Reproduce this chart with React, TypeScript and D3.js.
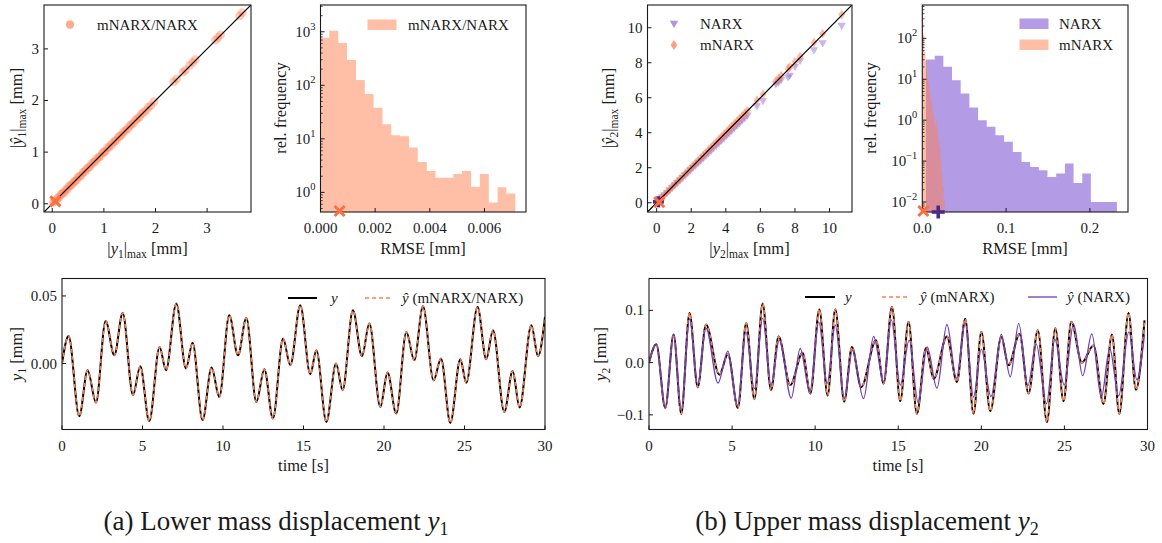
import React from "react";
import * as d3 from "d3";

const FONT = '"Liberation Serif", "Times New Roman", serif';
const CORAL = "#FF7F50";
const CORAL_MARK = "#FF6E40";
const PURPLE = "#9370DB";
const PURPLE_LINE = "#6A3FB8";
const PURPLE_DARK = "#4B2A85";
const INK = "#1a1a1a";

// ---------------- data: panel (a) lower mass ----------------
const scatterA_true = [0.02,0.05,0.08,0.11,0.14,0.17,0.2,0.23,0.26,0.29,0.32,0.35,0.38,0.41,0.44,0.47,0.5,0.53,0.57,0.6,0.63,0.66,0.7,0.73,0.76,0.8,0.83,0.86,0.9,0.93,0.97,1.0,1.03,1.07,1.1,1.14,1.17,1.21,1.24,1.28,1.31,1.35,1.38,1.42,1.46,1.5,1.53,1.57,1.61,1.65,1.69,1.73,1.77,1.82,1.86,1.91,1.97,2.35,2.41,2.53,2.58,2.66,2.72,2.77,3.16,3.21,3.26,3.63,3.68];
const scatterA_pred = [0.03,0.05,0.07,0.12,0.13,0.18,0.2,0.22,0.27,0.28,0.33,0.35,0.37,0.42,0.44,0.46,0.51,0.53,0.56,0.61,0.62,0.67,0.7,0.72,0.77,0.8,0.82,0.87,0.9,0.92,0.98,1.0,1.02,1.08,1.1,1.13,1.18,1.21,1.23,1.29,1.31,1.34,1.39,1.42,1.45,1.51,1.53,1.56,1.62,1.65,1.68,1.74,1.77,1.81,1.87,1.9,1.98,2.36,2.42,2.55,2.59,2.68,2.74,2.79,3.17,3.22,3.27,3.64,3.7];
const scatterA_ref = [0.06, 0.045];
const histA_edges = [0.0000,0.00032,0.00065,0.00097,0.0013,0.00162,0.00194,0.00227,0.00259,0.00292,0.00324,0.00356,0.00389,0.00421,0.00454,0.00486,0.00518,0.00551,0.00583,0.00616,0.00648,0.0068,0.00713];
const histA_density = [775,1050,620,296,125,69,38,18.8,11.7,11.2,6.9,3.7,2.5,1.87,1.87,2.2,2.5,1.27,2.2,0.65,1.25,0.95];
const histA_ref = 0.0007;

const tsA_t = [0,0.41,1.07,1.59,2.11,2.71,3.25,3.77,4.41,4.86,5.42,6.06,6.46,7.1,7.7,8.11,8.73,9.29,9.77,10.39,10.93,11.45,12.07,12.57,13.1,13.73,14.18,14.8,15.42,15.8,16.42,17.02,17.43,18.07,18.63,19.09,19.77,20.22,20.76,21.39,21.88,22.42,23.08,23.54,24.12,24.74,25.11,25.81,26.35,26.77,27.47,27.99,28.42,29.15,29.57,30];
const tsA_y = [0,0.0204,-0.039,-0.005,-0.0289,0.0315,0.0061,0.0374,-0.0234,-0.002,-0.0427,0.0123,-0.005,0.0444,-0.0037,0.0153,-0.0419,-0.003,-0.0247,0.0357,0.0061,0.0337,-0.0284,-0.0042,-0.0407,0.0185,-0.0013,0.0431,-0.0079,0.0098,-0.0432,0,-0.0197,0.0394,0.0054,0.0296,-0.0321,-0.0067,-0.037,0.0234,0.0024,0.0424,-0.0124,0.0037,-0.0439,0.0032,-0.0143,0.0419,0.0032,0.0246,-0.0358,-0.0055,-0.0325,0.0283,0.0054,0.0345];
const tsA_yhat = [0,0.0204,-0.039,-0.005,-0.0289,0.0315,0.0061,0.0374,-0.0234,-0.002,-0.0427,0.0123,-0.005,0.0444,-0.0037,0.0153,-0.0419,-0.003,-0.0247,0.0357,0.0061,0.0337,-0.0284,-0.0042,-0.0407,0.0185,-0.0013,0.0431,-0.0079,0.0098,-0.0432,0,-0.0197,0.0394,0.0054,0.0296,-0.0321,-0.0067,-0.037,0.0234,0.0024,0.0424,-0.0124,0.0037,-0.0439,0.0032,-0.0143,0.0419,0.0032,0.0246,-0.0358,-0.0055,-0.0325,0.0283,0.0054,0.0345];

// ---------------- data: panel (b) upper mass ----------------
const scatterB_true = [0.05,0.15,0.3,0.45,0.6,0.75,0.9,1.05,1.2,1.35,1.5,1.65,1.8,1.95,2.1,2.25,2.4,2.55,2.7,2.85,3.0,3.15,3.3,3.45,3.6,3.75,3.9,4.05,4.2,4.35,4.5,4.65,4.8,4.95,5.1,5.25,5.8,6.15,6.9,7.05,7.2,7.6,7.7,8.0,8.3,9.1,9.6,10.7];
const scatterB_narx = [0.1,0.2,0.3,0.42,0.55,0.7,0.85,0.98,1.12,1.26,1.4,1.55,1.68,1.83,1.97,2.1,2.25,2.38,2.53,2.67,2.82,2.96,3.1,3.24,3.39,3.53,3.67,3.82,3.96,4.1,4.25,4.39,4.53,4.68,4.82,4.97,5.5,5.8,6.75,6.85,7.0,7.15,7.25,7.75,8.1,8.7,9.1,10.1];
const scatterB_mnarx = [0.06,0.16,0.31,0.46,0.61,0.76,0.91,1.06,1.21,1.36,1.51,1.66,1.81,1.96,2.11,2.26,2.41,2.56,2.71,2.86,3.01,3.16,3.31,3.46,3.61,3.76,3.91,4.06,4.21,4.36,4.51,4.66,4.81,4.96,5.11,5.26,5.85,6.2,6.95,7.1,7.25,7.65,7.75,8.05,8.35,9.15,9.65,10.75];
const scatterB_refNarx = [0.1, 0.05];
const scatterB_refMnarx = [0.15, 0.03];
const histB_narxEdges = [0.0044,0.0148,0.0251,0.0355,0.0458,0.0562,0.0666,0.0769,0.0873,0.0976,0.108,0.1184,0.1287,0.1391,0.1494,0.1598,0.1702,0.1805,0.1909,0.2012,0.2116,0.222,0.2323];
const histB_narxDensity = [30.6,37.6,20.2,9.5,4.5,2.04,1.0,0.69,0.43,0.295,0.168,0.095,0.072,0.06,0.041,0.05,0.087,0.029,0.05,0.01,0.01,0.01];
const histB_mnarxEdges = [0,0.0012,0.0024,0.0036,0.0048,0.006,0.0072,0.0084,0.0096,0.0108,0.012,0.0132,0.0144,0.0156,0.0168,0.018,0.0192,0.0204,0.0216,0.0228,0.024,0.0252,0.0264];
const histB_mnarxDensity = [250,120,45,28,17,11,7.5,4.9,3.3,2.4,1.7,1.3,0.85,0.7,1.0,0.45,0.3,0.2,0.1,0.05,0.025,0.012];
const histB_refMnarx = 0.0012;
const histB_refNarx = 0.019;

const tsB_t = [0,0.44,0.98,1.48,1.94,2.44,2.93,3.43,4.23,4.75,5.35,5.85,6.34,6.84,7.34,7.8,8.5,9.24,9.71,10.25,10.75,11.21,11.75,12.21,12.77,13.66,14.12,14.62,15.12,15.62,16.12,16.67,17.13,17.93,18.53,19.03,19.53,20.0,20.54,21.2,21.64,22.3,22.84,23.4,23.95,24.45,24.95,25.41,26.05,26.75,27.35,27.86,28.3,28.86,29.3,29.82];
const tsB_y = [0,0.035,-0.087,0.054,-0.098,0.095,-0.047,0.073,-0.023,0.016,-0.087,0.076,-0.07,0.113,-0.053,0.05,-0.043,0.019,-0.059,0.102,-0.063,0.102,-0.075,0.03,-0.047,0.043,-0.04,0.107,-0.074,0.078,-0.098,0.028,-0.031,0.05,-0.037,0.084,-0.098,0.059,-0.093,0.049,-0.005,0.055,-0.059,0.062,-0.114,0.066,-0.074,0.078,0.0,0.033,-0.079,0.054,-0.098,0.095,-0.052,0.081];
const tsB_yhatMnarx = [0,0.035,-0.087,0.054,-0.098,0.095,-0.047,0.073,-0.023,0.016,-0.087,0.076,-0.07,0.113,-0.053,0.05,-0.043,0.019,-0.059,0.102,-0.063,0.102,-0.075,0.03,-0.047,0.043,-0.04,0.107,-0.074,0.078,-0.098,0.028,-0.031,0.05,-0.037,0.084,-0.098,0.059,-0.093,0.049,-0.005,0.055,-0.059,0.062,-0.114,0.066,-0.074,0.078,0.0,0.033,-0.079,0.054,-0.098,0.095,-0.052,0.081];
const tsB_tNarx = [0,0.44,0.98,1.48,1.94,2.44,2.93,3.43,4.15,4.75,5.33,5.83,6.34,6.84,7.34,7.84,8.56,9.1,9.68,10.22,10.72,11.21,11.75,12.25,12.91,13.52,14.12,14.58,15.12,15.66,16.2,16.74,17.33,17.93,18.5,19.03,19.53,20.0,20.58,21.2,21.74,22.25,22.8,23.3,23.92,24.42,24.99,25.55,26.1,26.65,27.22,27.73,28.26,28.88,29.36,29.82];
const tsB_yhatNarx = [0,0.035,-0.087,0.054,-0.092,0.084,-0.042,0.066,-0.039,0.022,-0.082,0.059,-0.05,0.085,-0.043,0.043,-0.068,0.027,-0.056,0.078,-0.04,0.072,-0.069,0.024,-0.069,0.05,-0.037,0.082,-0.043,0.043,-0.077,0.03,-0.049,0.073,-0.03,0.075,-0.066,0.026,-0.065,0.054,-0.027,0.075,-0.044,0.036,-0.079,0.045,-0.043,0.074,-0.025,0.055,-0.066,0.027,-0.064,0.059,-0.033,0.054];

// ---------------- tick definitions ----------------
const ticksA_scatter = [0, 1, 2, 3];
const ticksA_hist = [0, 0.002, 0.004, 0.006];
const ticksB_scatter = [0, 2, 4, 6, 8, 10];
const ticksB_hist = [0, 0.1, 0.2];
const ticksTime = [0, 5, 10, 15, 20, 25, 30];
const ticksA_ts = [-0.05, 0, 0.05];
const ticksB_ts = [-0.1, 0, 0.1];

// ---------------- layout ----------------
type Box = { x0: number; x1: number; y0: number; y1: number };
const P_A1: Box = { x0: 44, x1: 251, y0: 5, y1: 212 };
const P_A2: Box = { x0: 320.5, x1: 526, y0: 5, y1: 212 };
const P_B1: Box = { x0: 647.5, x1: 852, y0: 5, y1: 212 };
const P_B2: Box = { x0: 922.3, x1: 1128, y0: 5, y1: 212 };
const P_A3: Box = { x0: 62, x1: 545, y0: 278.5, y1: 429.5 };
const P_B3: Box = { x0: 649, x1: 1147.5, y0: 278.5, y1: 429.5 };

const TICK_FS = 15;
const LABEL_FS = 16.5;

function Frame({ b }: { b: Box }) {
  return <rect x={b.x0} y={b.y0} width={b.x1 - b.x0} height={b.y1 - b.y0} fill="none" stroke={INK} strokeWidth={1.1} />;
}

function XTicks({ b, scale, values, fmt }: { b: Box; scale: any; values: number[]; fmt: (v: number) => string }) {
  const [d0, d1] = scale.domain();
  return (
    <g>
      {values.filter((v) => v >= Math.min(d0, d1) - 1e-9 && v <= Math.max(d0, d1) + 1e-9).map((v, i) => (
        <g key={i}>
          <line x1={scale(v)} x2={scale(v)} y1={b.y1} y2={b.y1 - 4} stroke={INK} strokeWidth={1} />
          <text x={scale(v)} y={b.y1 + 21} textAnchor="middle" fontSize={TICK_FS}>{fmt(v)}</text>
        </g>
      ))}
    </g>
  );
}

function YTicks({ b, scale, values, fmt }: { b: Box; scale: any; values: number[]; fmt: (v: number) => string }) {
  const [d0, d1] = scale.domain();
  return (
    <g>
      {values.filter((v) => v >= Math.min(d0, d1) - 1e-9 && v <= Math.max(d0, d1) + 1e-9).map((v, i) => (
        <g key={i}>
          <line x1={b.x0} x2={b.x0 + 4} y1={scale(v)} y2={scale(v)} stroke={INK} strokeWidth={1} />
          <text x={b.x0 - 5} y={scale(v) + 5} textAnchor="end" fontSize={TICK_FS}>{fmt(v)}</text>
        </g>
      ))}
    </g>
  );
}

function LogYTicks({ b, scale }: { b: Box; scale: any }) {
  const [lo, hi] = scale.domain();
  const majors: number[] = [];
  const minors: number[] = [];
  for (let k = Math.floor(Math.log10(lo)); k <= Math.ceil(Math.log10(hi)); k++) {
    for (let m = 1; m <= 9; m++) {
      const v = m * Math.pow(10, k);
      if (v >= lo && v <= hi) (m === 1 ? majors : minors).push(v);
    }
  }
  return (
    <g>
      {minors.map((v, i) => (
        <line key={"m" + i} x1={b.x0} x2={b.x0 + 2.2} y1={scale(v)} y2={scale(v)} stroke={INK} strokeWidth={0.8} />
      ))}
      {majors.map((v, i) => {
        const e = Math.round(Math.log10(v));
        return (
          <g key={"M" + i}>
            <line x1={b.x0} x2={b.x0 + 4} y1={scale(v)} y2={scale(v)} stroke={INK} strokeWidth={1} />
            <text x={b.x0 - 5} y={scale(v) + 5} textAnchor="end" fontSize={TICK_FS}>
              10<tspan dy={-7} fontSize={10.5}>{e < 0 ? "\u2212" + Math.abs(e) : String(e)}</tspan>
            </text>
          </g>
        );
      })}
    </g>
  );
}

function AbsMax({ hat, idx }: { hat: boolean; idx: string }) {
  return (
    <>
      <tspan>|</tspan>
      <tspan fontStyle="italic">{hat ? "\u0177" : "y"}</tspan>
      <tspan fontSize={11.5} dy={4}>{idx}</tspan>
      <tspan dy={-4}>|</tspan>
      <tspan fontSize={11.5} dy={4}>max</tspan>
      <tspan dy={-4}>{"\u00a0[mm]"}</tspan>
    </>
  );
}

function XMark({ x, y, s, color }: { x: number; y: number; s: number; color: string }) {
  return (
    <g stroke={color} strokeWidth={3} strokeLinecap="butt">
      <line x1={x - s} y1={y - s} x2={x + s} y2={y + s} />
      <line x1={x - s} y1={y + s} x2={x + s} y2={y - s} />
    </g>
  );
}

function PlusMark({ x, y, s, color }: { x: number; y: number; s: number; color: string }) {
  return (
    <g stroke={color} strokeWidth={3.6}>
      <line x1={x - s} y1={y} x2={x + s} y2={y} />
      <line x1={x} y1={y - s} x2={x} y2={y + s} />
    </g>
  );
}

function stepArea(edges: number[], heights: number[], xs: any, ys: any, bottom: number) {
  const pts: [number, number][] = edges.map((e, i) => [e, heights[Math.min(i, heights.length - 1)]]);
  const gen = d3
    .area<[number, number]>()
    .x((d) => xs(d[0]))
    .y0(bottom)
    .y1((d) => Math.min(bottom, ys(d[1])))
    .curve(d3.curveStepAfter);
  return gen(pts) || "";
}

function triDown(cx: number, cy: number) {
  return `M${cx - 4.2},${cy - 3.2} L${cx + 4.2},${cy - 3.2} L${cx},${cy + 4} Z`;
}
function diamond(cx: number, cy: number) {
  return `M${cx},${cy - 5} L${cx + 3.4},${cy} L${cx},${cy + 5} L${cx - 3.4},${cy} Z`;
}

export default function App() {
  // scales
  const xA1 = d3.scaleLinear().domain([-0.16, 3.85]).range([P_A1.x0, P_A1.x1]);
  const yA1 = d3.scaleLinear().domain([-0.16, 3.85]).range([P_A1.y1, P_A1.y0]);
  const xA2 = d3.scaleLinear().domain([0, 0.00752]).range([P_A2.x0, P_A2.x1]);
  const yA2 = d3.scaleLog().domain([0.43, 3162]).range([P_A2.y1, P_A2.y0]);
  const xB1 = d3.scaleLinear().domain([-0.53, 11.3]).range([P_B1.x0, P_B1.x1]);
  const yB1 = d3.scaleLinear().domain([-0.53, 11.3]).range([P_B1.y1, P_B1.y0]);
  const xB2 = d3.scaleLinear().domain([0, 0.2455]).range([P_B2.x0, P_B2.x1]);
  const yB2 = d3.scaleLog().domain([0.0057, 653]).range([P_B2.y1, P_B2.y0]);
  const xA3 = d3.scaleLinear().domain([0, 30]).range([P_A3.x0, P_A3.x1]);
  const yA3 = d3.scaleLinear().domain([-0.0488, 0.0629]).range([P_A3.y1, P_A3.y0]);
  const xB3 = d3.scaleLinear().domain([0, 30]).range([P_B3.x0, P_B3.x1]);
  const yB3 = d3.scaleLinear().domain([-0.128, 0.161]).range([P_B3.y1, P_B3.y0]);

  const lineA = d3.line<number>().x((_, i) => xA3(tsA_t[i])).y((d) => yA3(d)).curve(d3.curveMonotoneX);
  const lineBy = d3.line<number>().x((_, i) => xB3(tsB_t[i])).y((d) => yB3(d)).curve(d3.curveMonotoneX);
  const lineBn = d3.line<number>().x((_, i) => xB3(tsB_tNarx[i])).y((d) => yB3(d)).curve(d3.curveMonotoneX);

  const fmtInt = (v: number) => (v < 0 ? "\u2212" : "") + d3.format("d")(Math.abs(v));
  const fmt3 = (v: number) => d3.format(".3f")(v);
  const fmt1 = (v: number) => (v < 0 ? "\u2212" : "") + d3.format(".1f")(Math.abs(v));
  const fmt2 = (v: number) => (v < 0 ? "\u2212" : "") + d3.format(".2f")(Math.abs(v));

  const clip = (id: string, b: Box) => (
    <clipPath id={id}>
      <rect x={b.x0} y={b.y0} width={b.x1 - b.x0} height={b.y1 - b.y0} />
    </clipPath>
  );

  return (
    <svg width={1162} height={543} viewBox="0 0 1162 543" style={{ position: "absolute", left: 0, top: 0, background: "#fff" }} fontFamily={FONT} fill={INK}>
      <defs>
        {clip("cA1", P_A1)}
        {clip("cA2", P_A2)}
        {clip("cB1", P_B1)}
        {clip("cB2", P_B2)}
        {clip("cA3", P_A3)}
        {clip("cB3", P_B3)}
      </defs>
      <rect x={0} y={0} width={1162} height={543} fill="#fff" />

      {/* ---------- (a) scatter ---------- */}
      <g clipPath="url(#cA1)">
        {scatterA_true.map((v, i) => (
          <circle key={i} cx={xA1(v)} cy={yA1(scatterA_pred[i])} r={4.4} fill={CORAL} fillOpacity={0.4} />
        ))}
        <line x1={xA1(-0.16)} y1={yA1(-0.16)} x2={xA1(3.85)} y2={yA1(3.85)} stroke="#000" strokeWidth={1.2} />
      </g>
      <XMark x={xA1(scatterA_ref[0])} y={yA1(scatterA_ref[1])} s={5} color={CORAL_MARK} />
      <Frame b={P_A1} />
      <XTicks b={P_A1} scale={xA1} values={ticksA_scatter} fmt={fmtInt} />
      <YTicks b={P_A1} scale={yA1} values={ticksA_scatter} fmt={fmtInt} />
      <circle cx={70} cy={24.5} r={4.2} fill={CORAL} fillOpacity={0.65} />
      <text x={97} y={29.5} fontSize={15}>mNARX/NARX</text>
      <text x={147.5} y={254} textAnchor="middle" fontSize={LABEL_FS}><AbsMax hat={false} idx="1" /></text>
      <text transform="translate(22,108) rotate(-90)" textAnchor="middle" fontSize={LABEL_FS}><AbsMax hat={true} idx="1" /></text>

      {/* ---------- (a) histogram ---------- */}
      <g clipPath="url(#cA2)">
        <path d={stepArea(histA_edges, histA_density, xA2, yA2, P_A2.y1)} fill={CORAL} fillOpacity={0.5} />
      </g>
      <Frame b={P_A2} />
      <XTicks b={P_A2} scale={xA2} values={ticksA_hist} fmt={fmt3} />
      <LogYTicks b={P_A2} scale={yA2} />
      <XMark x={xA2(histA_ref)} y={P_A2.y1 - 1} s={5} color={CORAL_MARK} />
      <rect x={367.5} y={19.5} width={29} height={10.5} fill={CORAL} fillOpacity={0.5} />
      <text x={408} y={30} fontSize={15}>mNARX/NARX</text>
      <text x={423} y={254} textAnchor="middle" fontSize={LABEL_FS}>RMSE [mm]</text>
      <text transform="translate(286,108) rotate(-90)" textAnchor="middle" fontSize={LABEL_FS}>rel. frequency</text>

      {/* ---------- (b) scatter ---------- */}
      <g clipPath="url(#cB1)">
        {scatterB_true.map((v, i) => (
          <path key={"n" + i} d={triDown(xB1(v), yB1(scatterB_narx[i]))} fill={PURPLE} fillOpacity={0.5} />
        ))}
        {scatterB_true.map((v, i) => (
          <path key={"m" + i} d={diamond(xB1(v), yB1(scatterB_mnarx[i]))} fill={CORAL} fillOpacity={0.5} />
        ))}
        <line x1={xB1(-0.53)} y1={yB1(-0.53)} x2={xB1(11.3)} y2={yB1(11.3)} stroke="#000" strokeWidth={1.2} />
      </g>
      <PlusMark x={xB1(scatterB_refNarx[0])} y={yB1(scatterB_refNarx[1])} s={5.5} color={PURPLE_DARK} />
      <XMark x={xB1(scatterB_refMnarx[0])} y={yB1(scatterB_refMnarx[1])} s={5} color={CORAL_MARK} />
      <Frame b={P_B1} />
      <XTicks b={P_B1} scale={xB1} values={ticksB_scatter} fmt={fmtInt} />
      <YTicks b={P_B1} scale={yB1} values={ticksB_scatter} fmt={fmtInt} />
      <path d={triDown(674, 24)} fill={PURPLE} fillOpacity={0.75} />
      <text x={700} y={29} fontSize={15}>NARX</text>
      <path d={diamond(674, 45)} fill={CORAL} fillOpacity={0.75} />
      <text x={700} y={50} fontSize={15}>mNARX</text>
      <text x={749.5} y={254} textAnchor="middle" fontSize={LABEL_FS}><AbsMax hat={false} idx="2" /></text>
      <text transform="translate(614,108) rotate(-90)" textAnchor="middle" fontSize={LABEL_FS}><AbsMax hat={true} idx="2" /></text>

      {/* ---------- (b) histogram ---------- */}
      <g clipPath="url(#cB2)">
        <path d={stepArea(histB_narxEdges, histB_narxDensity, xB2, yB2, P_B2.y1)} fill={PURPLE} fillOpacity={0.7} />
        <path d={stepArea(histB_mnarxEdges, histB_mnarxDensity, xB2, yB2, P_B2.y1)} fill={CORAL} fillOpacity={0.5} />
      </g>
      <Frame b={P_B2} />
      <XTicks b={P_B2} scale={xB2} values={ticksB_hist} fmt={fmt1} />
      <LogYTicks b={P_B2} scale={yB2} />
      <XMark x={xB2(histB_refMnarx)} y={P_B2.y1 - 1} s={5} color={CORAL_MARK} />
      <PlusMark x={xB2(histB_refNarx)} y={P_B2.y1} s={6.5} color={PURPLE_DARK} />
      <rect x={1019.5} y={18.5} width={29} height={10.5} fill={PURPLE} fillOpacity={0.7} />
      <text x={1059} y={29} fontSize={15}>NARX</text>
      <rect x={1019.5} y={39.5} width={29} height={10.5} fill={CORAL} fillOpacity={0.5} />
      <text x={1059} y={50} fontSize={15}>mNARX</text>
      <text x={1025} y={254} textAnchor="middle" fontSize={LABEL_FS}>RMSE [mm]</text>
      <text transform="translate(876,108) rotate(-90)" textAnchor="middle" fontSize={LABEL_FS}>rel. frequency</text>

      {/* ---------- (a) time series ---------- */}
      <g clipPath="url(#cA3)">
        <path d={lineA(tsA_y) || ""} fill="none" stroke="#000" strokeWidth={2} />
        <path d={lineA(tsA_yhat) || ""} fill="none" stroke={CORAL} strokeWidth={1.6} strokeDasharray="4 3" />
      </g>
      <Frame b={P_A3} />
      <XTicks b={P_A3} scale={xA3} values={ticksTime} fmt={fmtInt} />
      <YTicks b={P_A3} scale={yA3} values={ticksA_ts} fmt={fmt2} />
      <line x1={288} x2={317} y1={298} y2={298} stroke="#000" strokeWidth={2} />
      <text x={331} y={303} fontSize={15} fontStyle="italic">y</text>
      <line x1={365} x2={392} y1={298} y2={298} stroke={CORAL} strokeWidth={1.6} strokeDasharray="4 3" />
      <text x={402} y={303} fontSize={15}><tspan fontStyle="italic">{"\u0177"}</tspan>{" (mNARX/NARX)"}</text>
      <text x={303.5} y={471} textAnchor="middle" fontSize={LABEL_FS}>time [s]</text>
      <text transform="translate(22,354) rotate(-90)" textAnchor="middle" fontSize={LABEL_FS}>
        <tspan fontStyle="italic">y</tspan><tspan fontSize={11.5} dy={4}>1</tspan><tspan dy={-4}>{"\u00a0[mm]"}</tspan>
      </text>

      {/* ---------- (b) time series ---------- */}
      <g clipPath="url(#cB3)">
        <path d={lineBy(tsB_y) || ""} fill="none" stroke="#000" strokeWidth={2} />
        <path d={lineBy(tsB_yhatMnarx) || ""} fill="none" stroke={CORAL} strokeWidth={1.6} strokeDasharray="4 3" />
        <path d={lineBn(tsB_yhatNarx) || ""} fill="none" stroke={PURPLE_LINE} strokeWidth={1.3} />
      </g>
      <Frame b={P_B3} />
      <XTicks b={P_B3} scale={xB3} values={ticksTime} fmt={fmtInt} />
      <YTicks b={P_B3} scale={yB3} values={ticksB_ts} fmt={fmt1} />
      <line x1={805} x2={835} y1={297} y2={297} stroke="#000" strokeWidth={2} />
      <text x={845} y={302} fontSize={15} fontStyle="italic">y</text>
      <line x1={882} x2={908} y1={297} y2={297} stroke={CORAL} strokeWidth={1.6} strokeDasharray="4 3" />
      <text x={920} y={302} fontSize={15}><tspan fontStyle="italic">{"\u0177"}</tspan>{" (mNARX)"}</text>
      <line x1={1028} x2={1057} y1={297} y2={297} stroke={PURPLE_LINE} strokeWidth={1.3} />
      <text x={1067} y={302} fontSize={15}><tspan fontStyle="italic">{"\u0177"}</tspan>{" (NARX)"}</text>
      <text x={898} y={471} textAnchor="middle" fontSize={LABEL_FS}>time [s]</text>
      <text transform="translate(606,354) rotate(-90)" textAnchor="middle" fontSize={LABEL_FS}>
        <tspan fontStyle="italic">y</tspan><tspan fontSize={11.5} dy={4}>2</tspan><tspan dy={-4}>{"\u00a0[mm]"}</tspan>
      </text>

      {/* ---------- captions ---------- */}
      <text x={276} y={530} textAnchor="middle" fontSize={27}>
        (a) Lower mass displacement <tspan fontStyle="italic">y</tspan><tspan fontSize={18} dy={5}>1</tspan>
      </text>
      <text x={867} y={530} textAnchor="middle" fontSize={27}>
        (b) Upper mass displacement <tspan fontStyle="italic">y</tspan><tspan fontSize={18} dy={5}>2</tspan>
      </text>
    </svg>
  );
}
